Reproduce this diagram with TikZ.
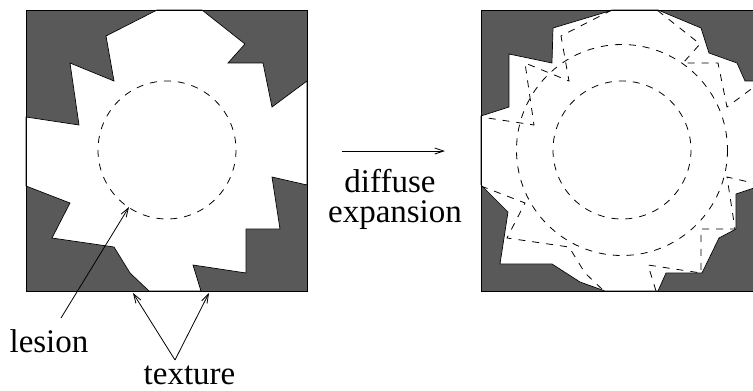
\documentclass[tikz,border=0pt]{standalone}
\usepackage{fontspec}
\setmainfont{Liberation Serif}
\usetikzlibrary{arrows.meta}
\begin{document}
\begin{tikzpicture}[x=1pt,y=-1pt,
  lbl/.style={font=\fontsize{33}{40}\selectfont, inner sep=0pt, anchor=base},
  dark/.style={fill=black!65},
  frame/.style={draw=black, line width=0.9pt},
  blob/.style={fill=white, draw=black, line width=0.7pt, line join=miter},
  dsh/.style={draw=black, line width=0.8pt, dash pattern=on 7pt off 7pt},
  pointer/.style={draw=black, line width=0.8pt, -{Straight Barb[length=9pt,width=6pt]}}]
\useasboundingbox (0,0) rectangle (753,391);
\clip (0,0) rectangle (753,391);

% ---------- left panel ----------
\fill[dark] (26,10) rectangle (307,291);
\path[blob] (157,10) -- (106,36) -- (114,81) -- (70,63) -- (79,125) -- (26,117)
  -- (26,186) -- (70,203) -- (52,238) -- (114,247) -- (130,273) -- (149,291)
  -- (201,291) -- (193,265) -- (246,273) -- (246,229) -- (280,229) -- (272,177)
  -- (307,185) -- (307,81) -- (272,107) -- (263,63) -- (228,63) -- (245,44)
  -- (202,10) -- cycle;
\draw[dsh] (167,150) circle[radius=69];
\draw[frame] (26,10) rectangle (307,291);

% ---------- right panel ----------
\fill[dark] (481,10) rectangle (762,291);
\path[blob] (613,10) -- (553,28) -- (552,63) -- (509,54) -- (509,107) -- (481,116)
  -- (481,185) -- (508,212) -- (500,264) -- (552,264) -- (580,282) -- (605,291)
  -- (658,291) -- (666,273) -- (702,273) -- (719,238) -- (736,229) -- (736,194)
  -- (754,188) -- (800,180) -- (800,81) -- (745,81) -- (737,63) -- (709,53)
  -- (701,28) -- (658,10) -- cycle;
\begin{scope}[xshift=455pt]
\draw[dsh] (157,10) -- (106,36) -- (114,81) -- (70,63) -- (79,125) -- (26,117)
  (26,186) -- (70,203) -- (52,238) -- (114,247) -- (130,273) -- (149,291)
  (201,291) -- (193,265) -- (246,273) -- (246,229) -- (280,229) -- (272,177)
  -- (307,185) (307,81) -- (272,107) -- (263,63) -- (228,63) -- (245,44)
  -- (202,10);
\end{scope}
\draw[dsh] (622,150) circle[radius=69];
\draw[dsh] (622,150) circle[radius=105.5];
\draw[frame] (481,10) rectangle (762,291);

% ---------- labels and pointers ----------
\node[lbl] (lesion) at (49,352) {lesion};
\node[lbl, text depth=0pt] (texture) at (189.5,384) {texture};
\node[lbl, text depth=0pt] (diffuse) at (390,192) {diffuse};
\node[lbl, text height=16pt] (expansion) at (395,222) {expansion};

\coordinate (lesionfrom) at (61,318);
\coordinate (lesiontip) at (129,207);
\coordinate (texfrom) at (175,360);
\coordinate (textipA) at (133,293);
\coordinate (textipB) at (209,293);
\coordinate (expfrom) at (342,151);
\coordinate (exptip) at (445,151);

\draw[pointer] (lesionfrom) -- (lesiontip);
\draw[pointer] (texfrom) -- (textipA);
\draw[pointer] (texfrom) -- (textipB);
\draw[pointer] (expfrom) -- (exptip);
\end{tikzpicture}
\end{document}
